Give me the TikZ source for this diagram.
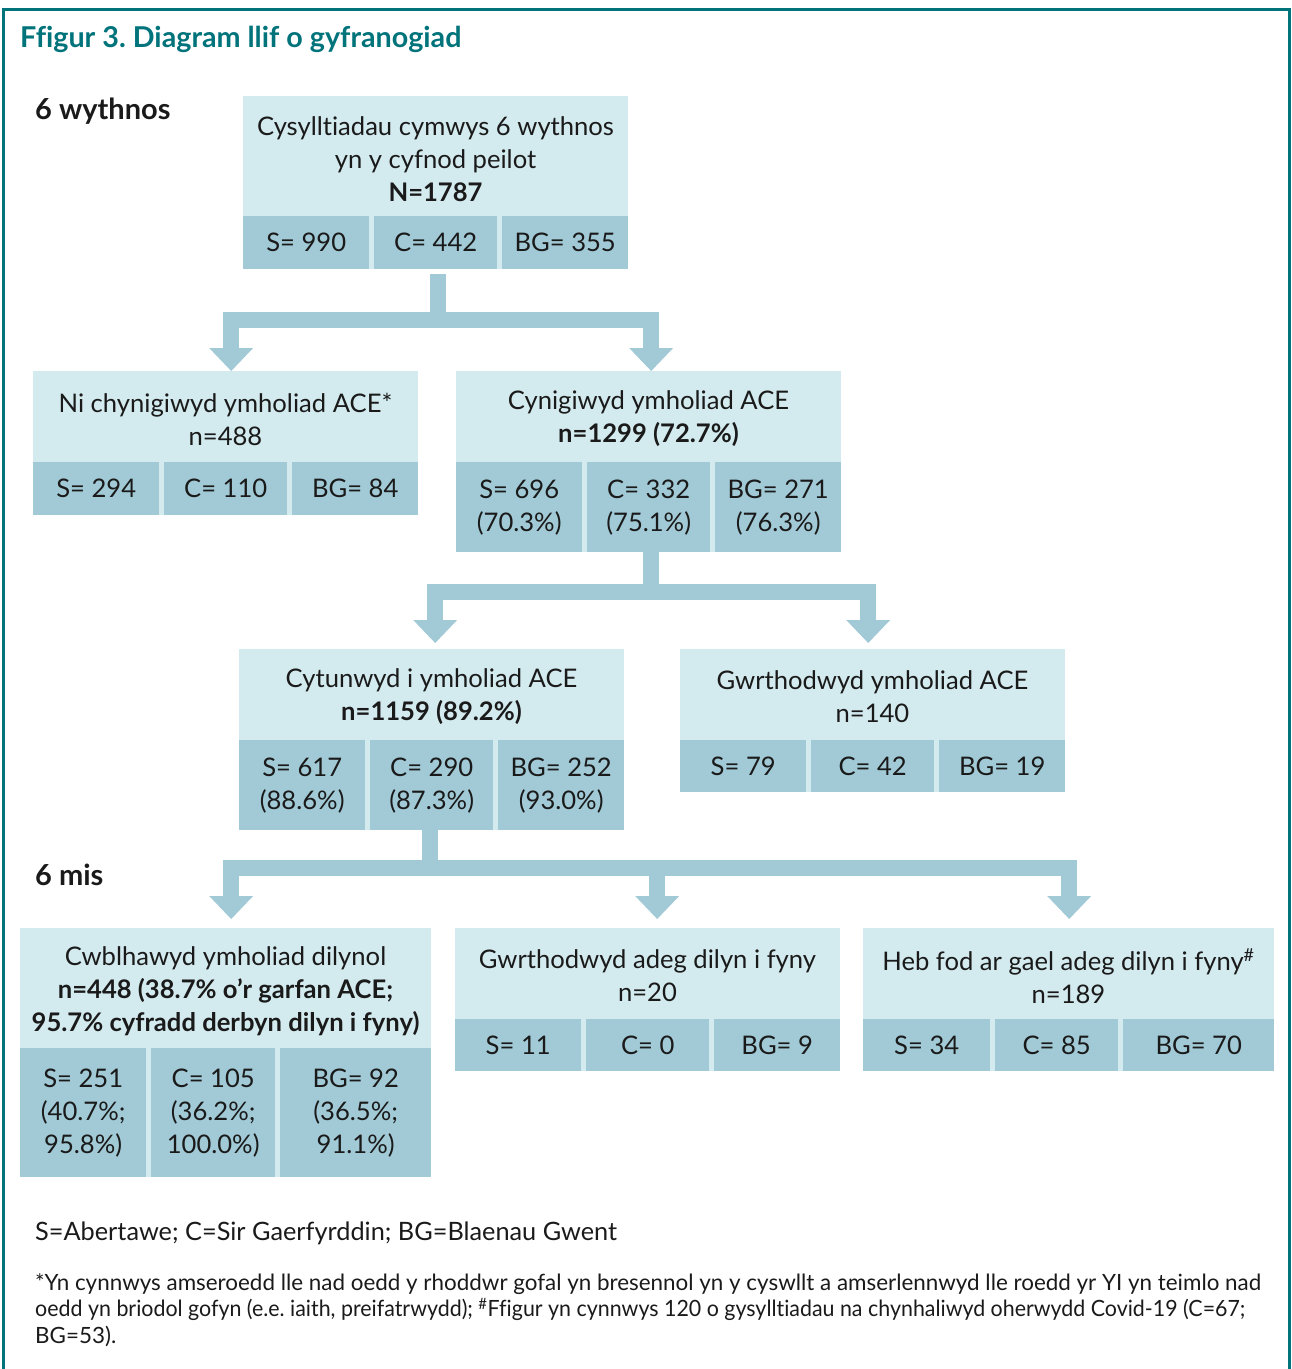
\documentclass[tikz,border=0pt]{standalone}
\usepackage{fontspec}
\setmainfont{Lato}[Ligatures=NoCommon]
\frenchspacing
\usetikzlibrary{arrows.meta}
\definecolor{lightc}{HTML}{D3EAEE}
\definecolor{darkc}{HTML}{A1CAD6}
\definecolor{tealc}{HTML}{00737B}
\definecolor{txt}{HTML}{1A1A1A}
\newcommand\bodyfont{\fontsize{25.6}{33}\selectfont}
\newcommand\keyfont{\fontsize{25.3}{30}\selectfont}
\newcommand\notefont{\fontsize{22.4}{26.5}\selectfont}
\tikzset{
  boxbg/.style={fill=lightc, draw=none, inner sep=0pt, anchor=north west},
  cellbox/.style={fill=darkc, draw=none, inner sep=0pt, anchor=north west, align=center, font=\bodyfont, text=txt},
  ttl/.style={inner sep=0pt, align=center, font=\bodyfont, text=txt},
  flow/.style={draw=darkc, line width=16pt},
  flowarrow/.style={flow, -{Triangle[width=44pt,length=23pt,line width=0pt]}},
  lbl/.style={inner sep=0pt, anchor=west, font=\fontsize{29}{32}\selectfont\bfseries, text=txt},
}
\begin{document}
\begin{tikzpicture}[x=1pt,y=-1pt]
\useasboundingbox (0,0) rectangle (1292,1369);
\draw[tealc, line width=3pt] (3,1372) -- (3,9) -- (1289,9) -- (1289,1372);
\node[inner sep=0pt, anchor=west, font=\fontsize{28.7}{32}\selectfont\bfseries, text=tealc] (fig) at (20,39) {Ffigur 3. Diagram llif o gyfranogiad};
\node[lbl] (w6) at (35,111) {6 wythnos};
\node[lbl] (m6) at (35,875) {6 mis};

% Box 1
\node[boxbg, minimum width=385pt, minimum height=173pt] (b1) at (243,96) {};
\node[ttl] (b1t) at (435.5,159) {Cysylltiadau cymwys 6 wythnos\\yn y cyfnod peilot\\\textbf{N=1787}};
\node[cellbox, minimum width=126pt, minimum height=53pt] (b1s) at (243,216) {S= 990};
\node[cellbox, minimum width=123pt, minimum height=53pt] (b1c) at (374,216) {C= 442};
\node[cellbox, minimum width=126pt, minimum height=53pt] (b1g) at (502,216) {BG= 355};

% Box 2L
\node[boxbg, minimum width=385pt, minimum height=144pt] (b2l) at (33,371) {};
\node[ttl] (b2lt) at (225.5,419) {Ni chynigiwyd ymholiad ACE*\\n=488};
\node[cellbox, minimum width=126pt, minimum height=53pt] (b2ls) at (33,462) {S= 294};
\node[cellbox, minimum width=123pt, minimum height=53pt] (b2lc) at (164,462) {C= 110};
\node[cellbox, minimum width=126pt, minimum height=53pt] (b2lg) at (292,462) {BG= 84};

% Box 2R
\node[boxbg, minimum width=385pt, minimum height=181pt] (b2r) at (456,371) {};
\node[ttl] (b2rt) at (648.5,419) {Cynigiwyd ymholiad ACE\\\textbf{n=1299 (72.7\%)}};
\node[cellbox, minimum width=126pt, minimum height=90pt] (b2rs) at (456,462) {S= 696\\(70.3\%)};
\node[cellbox, minimum width=123pt, minimum height=90pt] (b2rc) at (587,462) {C= 332\\(75.1\%)};
\node[cellbox, minimum width=126pt, minimum height=90pt] (b2rg) at (715,462) {BG= 271\\(76.3\%)};

% Box 3L
\node[boxbg, minimum width=385pt, minimum height=181pt] (b3l) at (239,649) {};
\node[ttl] (b3lt) at (431.5,697) {Cytunwyd i ymholiad ACE\\\textbf{n=1159 (89.2\%)}};
\node[cellbox, minimum width=126pt, minimum height=90pt] (b3ls) at (239,740) {S= 617\\(88.6\%)};
\node[cellbox, minimum width=123pt, minimum height=90pt] (b3lc) at (370,740) {C= 290\\(87.3\%)};
\node[cellbox, minimum width=126pt, minimum height=90pt] (b3lg) at (498,740) {BG= 252\\(93.0\%)};

% Box 3R
\node[boxbg, minimum width=385pt, minimum height=143pt] (b3r) at (680,649) {};
\node[ttl] (b3rt) at (872.5,697) {Gwrthodwyd ymholiad ACE\\n=140};
\node[cellbox, minimum width=126pt, minimum height=52pt] (b3rs) at (680,740) {S= 79};
\node[cellbox, minimum width=123pt, minimum height=52pt] (b3rc) at (811,740) {C= 42};
\node[cellbox, minimum width=126pt, minimum height=52pt] (b3rg) at (939,740) {BG= 19};

% Box 4L
\node[boxbg, minimum width=411pt, minimum height=249pt] (b4l) at (20,928) {};
\node[ttl] (b4lt) at (225.5,991) {Cwblhawyd ymholiad dilynol\\\textbf{n=448 (38.7\% o’r garfan ACE;}\\\textbf{95.7\% cyfradd derbyn dilyn i fyny)}};
\node[cellbox, minimum width=126pt, minimum height=129pt] (b4ls) at (20,1048) {S= 251\\(40.7\%;\\95.8\%)};
\node[cellbox, minimum width=124pt, minimum height=129pt] (b4lc) at (151,1048) {C= 105\\(36.2\%;\\100.0\%)};
\node[cellbox, minimum width=151pt, minimum height=129pt] (b4lg) at (280,1048) {BG= 92\\(36.5\%;\\91.1\%)};

% Box 4M
\node[boxbg, minimum width=385pt, minimum height=143pt] (b4m) at (455,928) {};
\node[ttl] (b4mt) at (647.5,976) {Gwrthodwyd adeg dilyn i fyny\\n=20};
\node[cellbox, minimum width=126pt, minimum height=52pt] (b4ms) at (455,1019) {S= 11};
\node[cellbox, minimum width=123pt, minimum height=52pt] (b4mc) at (586,1019) {C= 0};
\node[cellbox, minimum width=126pt, minimum height=52pt] (b4mg) at (714,1019) {BG= 9};

% Box 4R
\node[boxbg, minimum width=411pt, minimum height=143pt] (b4r) at (863,928) {};
\node[ttl] (b4rt) at (1068.5,976) {Heb fod ar gael adeg dilyn i fyny\textsuperscript{\#}\\n=189};
\node[cellbox, minimum width=127pt, minimum height=52pt] (b4rs) at (863,1019) {S= 34};
\node[cellbox, minimum width=123pt, minimum height=52pt] (b4rc) at (995,1019) {C= 85};
\node[cellbox, minimum width=151pt, minimum height=52pt] (b4rg) at (1123,1019) {BG= 70};

% connectors
\coordinate (j1) at (438,320);
\draw[flow] ([yshift=-5pt]b1c.south -| j1) -- (j1);
\draw[flowarrow] (j1) -| ([xshift=5.5pt]b2l.north);
\draw[flowarrow] (j1) -| ([xshift=2.5pt]b2r.north);

\coordinate (j2) at (651,592);
\draw[flow] (b2rc.south -| j2) -- (j2);
\draw[flowarrow, shorten >=6pt] (j2) -| ([xshift=3.5pt]b3l.north);
\draw[flowarrow, shorten >=6pt] (j2) -| ([xshift=-4.5pt]b3r.north);

\coordinate (j3) at (430,868);
\draw[flow] (b3lc.south -| j3) -- (j3);
\draw[flowarrow, shorten >=9pt] (j3) -| ([xshift=5.5pt]b4l.north);
\draw[flowarrow, shorten >=9pt] (j3) -| ([xshift=9.5pt]b4m.north);
\draw[flowarrow, shorten >=9pt] (j3) -| ([xshift=0.5pt]b4r.north);

% notes
\node[inner sep=0pt, anchor=west, font=\keyfont, text=txt] (key) at (35,1233) {S=Abertawe; C=Sir Gaerfyrddin; BG=Blaenau Gwent};
\node[inner sep=0pt, anchor=north west, align=left, font=\notefont, text=txt] (note) at (35,1273) {*Yn cynnwys amseroedd lle nad oedd y rhoddwr gofal yn bresennol yn y cyswllt a amserlennwyd lle roedd yr YI yn teimlo nad\\\scalebox{0.955}[1]{oedd yn briodol gofyn (e.e. iaith, preifatrwydd); \textsuperscript{\#}Ffigur yn cynnwys 120 o gysylltiadau na chynhaliwyd oherwydd Covid-19 (C=67;}\\BG=53).};
\end{tikzpicture}
\end{document}
